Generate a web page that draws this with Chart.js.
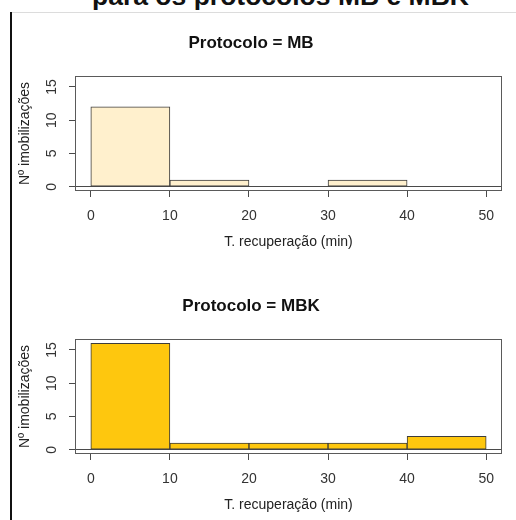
<!DOCTYPE html>
<html>
<head>
<meta charset="utf-8">
<script src="https://cdn.jsdelivr.net/npm/chart.js@4.4.1/dist/chart.umd.min.js"></script>
<style>
    body { margin: 0; background: #fff; width: 516px; height: 520px; overflow: hidden; position: relative; font-family: "Liberation Sans", Arial, sans-serif; }
    #pageTitle { position: absolute; left: 92px; top: -17px; font-size: 26.5px; font-weight: bold; line-height: 26px; white-space: nowrap; color: #111; }
    #topRule { position: absolute; left: 10px; top: 12px; width: 506px; height: 1px; background: #dcdcdc; }
    #leftRule { position: absolute; left: 10px; top: 12px; width: 2px; height: 508px; background: #111; }
    .panel { position: absolute; left: 0; width: 516px; height: 240px; }
    #panelMB { top: 16px; }
    #panelMBK { top: 279px; }
</style>
</head>
<body>
<div id="pageTitle">para os protocolos MB e MBK</div>
<div id="topRule"></div>
<div id="leftRule"></div>
<div class="panel" id="panelMB"><canvas id="chartMB"></canvas></div>
<div class="panel" id="panelMBK"><canvas id="chartMBK"></canvas></div>
<script>
// histogram bins (minutes) and counts per protocol
const binEdges = [0, 10, 20, 30, 40, 50];
const countsMB = [12, 1, 0, 1, 0];
const countsMBK = [16, 1, 1, 1, 2];
const xTicks = [0, 10, 20, 30, 40, 50];
const yTicks = [0, 5, 10, 15];

const FONT = '"Liberation Sans", Arial, sans-serif';

// draws the frame round the plot region, like R's box()
const boxPlugin = {
    id: 'plotBox',
    afterDatasetsDraw(chart) {
        const { ctx, chartArea } = chart;
        ctx.save();
        ctx.strokeStyle = '#5a5a5a';
        ctx.lineWidth = 1;
        ctx.strokeRect(chartArea.left + 0.5, chartArea.top + 0.5,
            chartArea.right - chartArea.left - 1, chartArea.bottom - chartArea.top - 1);
        ctx.restore();
    }
};

const makeHistogram = (canvasId, title, counts, fill) => {
    const ctx = document.getElementById(canvasId).getContext('2d');
    // one bar per bin, centred between its edges
    const points = counts.map((c, i) => ({ x: (binEdges[i] + binEdges[i + 1]) / 2, y: c }));

    return new Chart(ctx, {
        type: 'bar',
        data: {
            datasets: [{
                data: points,
                backgroundColor: fill,
                borderColor: '#3c3c3c',
                borderWidth: 1,
                borderSkipped: false,
                barPercentage: 1,
                categoryPercentage: 1
            }]
        },
        plugins: [boxPlugin],
        options: {
            responsive: true,
            maintainAspectRatio: false,
            animation: false,
            layout: { padding: { top: 0, left: 0, right: 14, bottom: 0 } },
            plugins: {
                legend: { display: false },
                tooltip: { enabled: false },
                title: {
                    display: true,
                    text: title,
                    color: '#111',
                    font: { family: FONT, size: 17, weight: 'bold' },
                    padding: { top: 16.8, bottom: 22.8 }
                }
            },
            scales: {
                x: {
                    type: 'linear',
                    offset: false,
                    min: -2,
                    max: 52,
                    afterBuildTicks: (axis) => { axis.ticks = xTicks.map(v => ({ value: v })); },
                    afterFit: (axis) => { axis.height = 65; },
                    border: { display: false },
                    grid: { offset: false, drawOnChartArea: false, drawTicks: true, tickLength: 6, tickColor: '#4a4a4a' },
                    ticks: { color: '#333', font: { family: FONT, size: 14 }, padding: 10.6, maxRotation: 0 },
                    title: {
                        display: true,
                        text: 'T. recuperação (min)',
                        color: '#222',
                        font: { family: FONT, size: 14 },
                        padding: { top: 0, bottom: 5.6 }
                    }
                },
                y: {
                    min: -0.64,
                    max: 16.64,
                    afterBuildTicks: (axis) => { axis.ticks = yTicks.map(v => ({ value: v })); },
                    afterFit: (axis) => { axis.width = 75; },
                    border: { display: false },
                    grid: {
                        drawTicks: true,
                        tickLength: 6,
                        tickColor: '#4a4a4a',
                        color: (c) => (c.tick && c.tick.value === 0 ? '#4a4a4a' : 'rgba(0,0,0,0)')
                    },
                    ticks: {
                        color: '#333',
                        font: { family: FONT, size: 14 },
                        minRotation: 90,
                        maxRotation: 90,
                        crossAlign: 'center',
                        padding: 9.2
                    },
                    title: {
                        display: true,
                        text: 'Nº imobilizações',
                        color: '#222',
                        font: { family: FONT, size: 14 },
                        padding: { top: 16.6, bottom: 0 }
                    }
                }
            }
        }
    });
};

makeHistogram('chartMB', 'Protocolo = MB', countsMB, '#fff0cd');
makeHistogram('chartMBK', 'Protocolo = MBK', countsMBK, '#fec70e');
</script>
</body>
</html>
